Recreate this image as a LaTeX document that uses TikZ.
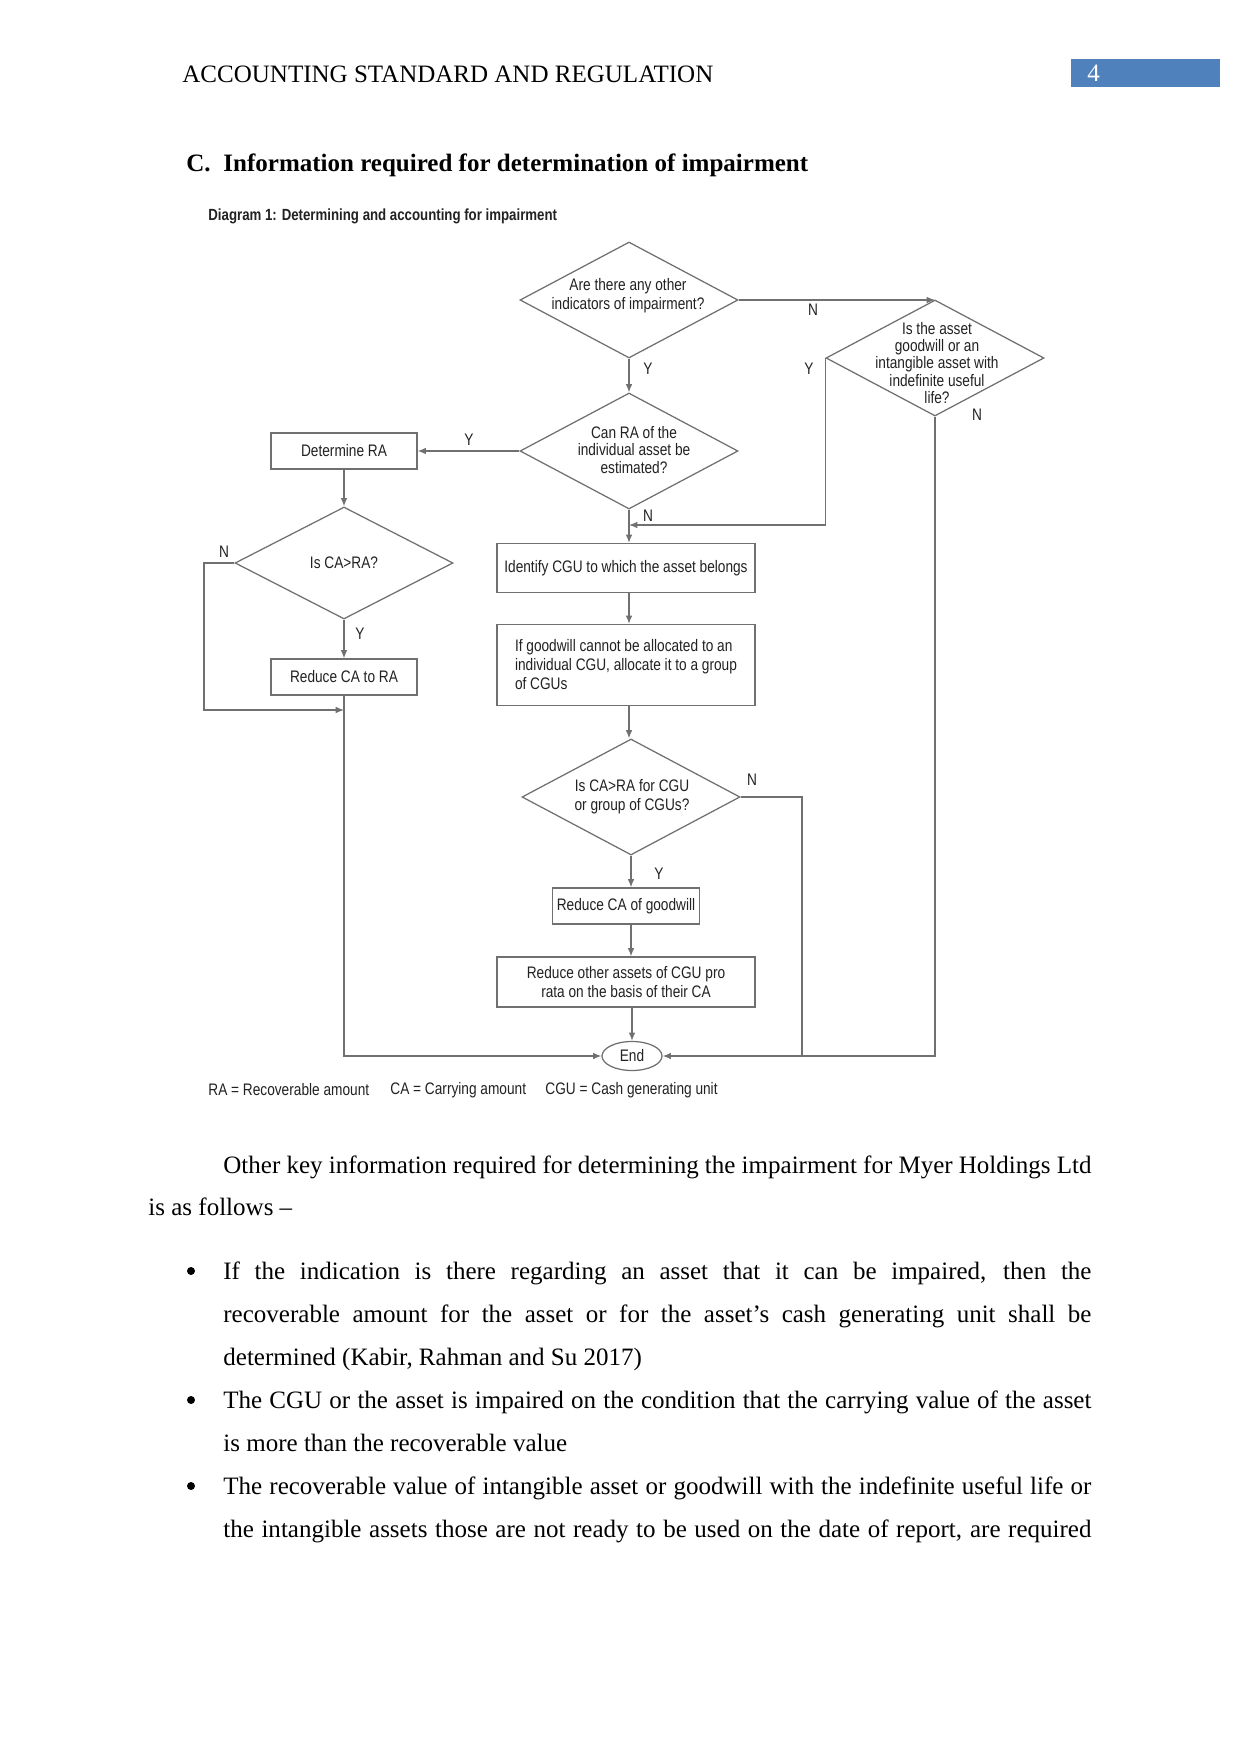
\documentclass[tikz,border=0pt]{standalone}
\usepackage{fontspec}
\setmainfont{Liberation Serif}
\newfontfamily\dfont[FakeStretch=0.82]{Liberation Sans}
\usetikzlibrary{shapes.geometric,arrows.meta}
\def\pu{0.4797pt}
\definecolor{ln}{HTML}{707070}
\definecolor{tx}{HTML}{222222}
\definecolor{hdr}{HTML}{4F81BD}
\def\lw{416.4pt}
\begin{document}
\begin{tikzpicture}[x=0.4797pt,y=-0.4797pt,
  dia/.style={diamond, draw=ln, line width=0.6pt, minimum width=218*\pu, minimum height=116*\pu, inner sep=0pt},
  dtext/.style={text=tx, font=\dfont\fontsize{8}{9.1}\selectfont, align=center, inner sep=0pt},
  box/.style={rectangle, draw=ln, line width=0.6pt, text=tx, font=\dfont\fontsize{8}{9.1}\selectfont, align=center, inner sep=2pt},
  lab/.style={text=tx, font=\dfont\fontsize{8}{9}\selectfont, inner sep=0pt},
  arr/.style={draw=ln, line width=0.6pt, -{Latex[length=4pt,width=3.2pt]}},
  con/.style={draw=ln, line width=0.6pt},
  body/.style={font=\fontsize{12}{14}\selectfont, anchor=base west, inner sep=0pt},
  bul/.style={circle, fill=black, minimum size=8*\pu, inner sep=0pt},
]
\useasboundingbox[fill=white] (0,0) rectangle (1241,1754);

% header
\node[body] (hd) at (182,83) {ACCOUNTING STANDARD AND REGULATION};
\node[fill=hdr, minimum width=149*\pu, minimum height=28*\pu, inner sep=0pt, anchor=north west] (pg) at (1071,59) {};
\node[body, text=white] (pgn) at (1087,82) {4};
\node[body, font=\fontsize{12}{14}\selectfont\bfseries] (hc) at (186,172) {C.};
\node[body, font=\fontsize{12}{14}\selectfont\bfseries] (ht) at (223,172) {Information required for determination of impairment};

\node[anchor=west, inner sep=0pt, text=tx, font=\dfont\fontsize{7.75}{9}\selectfont\bfseries] (cap) at (208,216) {Diagram 1: Determining and accounting for impairment};

% diamonds
\node[dia] (d1) at (629,300) {};
\node[dtext] (t1) at (628,296) {Are there any other\\indicators of impairment?};
\node[dia] (d2) at (935,358) {};
\node[dtext, font=\dfont\fontsize{8}{8.2}\selectfont] (t2) at (937,363) {Is the asset\\goodwill or an\\intangible asset with\\indefinite useful\\life?};
\node[dia] (d3) at (629,451) {};
\node[dtext, font=\dfont\fontsize{8}{8.4}\selectfont] (t3) at (634,450) {Can RA of the\\individual asset be\\estimated?};
\node[dia, minimum height=112*\pu] (d4) at (344,563) {};
\node[dtext] (t4) at (344,563) {Is CA>RA?};
\node[dia] (d5) at (631,797) {};
\node[dtext] (t5) at (632,797) {Is CA>RA for CGU\\or group of CGUs?};

% boxes
\node[box, minimum width=146*\pu, minimum height=36*\pu] (detra) at (344,451) {Determine RA};
\node[box, minimum width=146*\pu, minimum height=36*\pu] (redra) at (344,677) {Reduce CA to RA};
\node[box, minimum width=258*\pu, minimum height=49*\pu] (idcgu) at (626,568) {Identify CGU to which the asset belongs};
\node[box, minimum width=258*\pu, minimum height=81*\pu, align=left] (ifgw) at (626,665) {If goodwill cannot be allocated to an\\individual CGU, allocate it to a group\\of CGUs};
\node[box, minimum width=147*\pu, minimum height=36*\pu] (redgw) at (626,906) {Reduce CA of goodwill};
\node[box, minimum width=258*\pu, minimum height=50*\pu] (redoth) at (626,982) {Reduce other assets of CGU pro\\rata on the basis of their CA};
\node[ellipse, draw=ln, line width=0.6pt, text=tx, font=\dfont\fontsize{8}{9}\selectfont, minimum width=60*\pu, minimum height=29*\pu, inner sep=0pt] (end) at (632,1056) {End};

% junction coordinates
\coordinate (j1) at (344,710);
\coordinate (j2) at (629,525);
\coordinate (j3) at (802,1056);
\coordinate (j4) at (204,563);

% connectors
\draw[arr] (d1.east) -- (d1.east -| d2.north);
\draw[arr] (d1.south) -- (d3.north);
\draw[arr] (d3.west) -- (detra.east);
\draw[arr] (detra.south) -- (d4.north);
\draw[arr] (d4.south) -- (redra.north);
\draw[arr] (d4.west) -- (j4) |- (j1);
\draw[arr] (redra.south) |- (end.west);
\draw[arr] (d3.south) -- (d3.south |- idcgu.north);
\draw[arr] (d2.west) |- (j2);
\draw[arr] (d2.south) |- (end.east);
\draw[con] (d5.east) -| (j3);
\draw[arr] (idcgu.south -| d3.south) -- (d3.south |- ifgw.north);
\draw[arr] (ifgw.south -| d3.south) -- (d5.north -| d3.south);
\draw[arr] (d5.south) -- (d5.south |- redgw.north);
\draw[arr] (redgw.south -| d5.south) -- (redoth.north -| d5.south);
\draw[arr] (redoth.south -| end.north) -- (end.north);

% labels
\node[lab] (l1) at (813,310) {N};
\node[lab] (l2) at (648,369) {Y};
\node[lab] (l3) at (469,440) {Y};
\node[lab] (l4) at (809,369) {Y};
\node[lab] (l5) at (977,415) {N};
\node[lab] (l6) at (648,516) {N};
\node[lab] (l7) at (224,552) {N};
\node[lab] (l8) at (360,634) {Y};
\node[lab] (l9) at (752,780) {N};
\node[lab] (l10) at (659,874) {Y};

% legend
\node[lab, anchor=west] (lg1) at (208,1090) {RA = Recoverable amount};
\node[lab, anchor=west] (lg2) at (390,1090) {CA = Carrying amount};
\node[lab, anchor=west] (lg3) at (545,1090) {CGU = Cash generating unit};

% body text
\node[body] (p1) at (223,1173) {\makebox[\lw][s]{Other key information required for determining the impairment for Myer Holdings Ltd}};
\node[body] (p2) at (148,1215) {is as follows –};
\node[bul] (b1) at (191,1271) {};
\node[body] (p3) at (223,1279) {\makebox[\lw][s]{If the indication is there regarding an asset that it can be impaired, then the}};
\node[body] (p4) at (223,1322) {\makebox[\lw][s]{recoverable amount for the asset or for the asset’s cash generating unit shall be}};
\node[body] (p5) at (223,1365) {determined (Kabir, Rahman and Su 2017)};
\node[bul] (b2) at (191,1400) {};
\node[body] (p6) at (223,1408) {\makebox[\lw][s]{The CGU or the asset is impaired on the condition that the carrying value of the asset}};
\node[body] (p7) at (223,1451) {is more than the recoverable value};
\node[bul] (b3) at (191,1486) {};
\node[body] (p8) at (223,1494) {\makebox[\lw][s]{The recoverable value of intangible asset or goodwill with the indefinite useful life or}};
\node[body] (p9) at (223,1537) {\makebox[\lw][s]{the intangible assets those are not ready to be used on the date of report, are required}};
\end{tikzpicture}
\end{document}
